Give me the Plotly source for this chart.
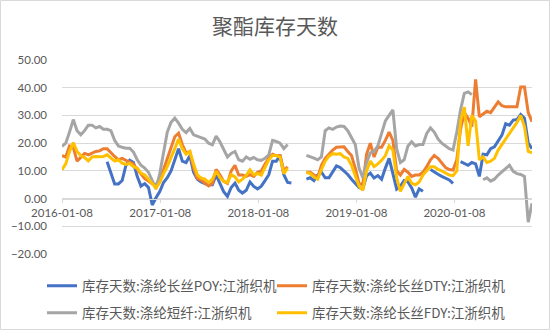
import plotly.graph_objects as go
import pandas as pd

title = "聚酯库存天数"
# weekly-ish sampling (every 14 days) of the reference series
dates = pd.date_range("2016-01-08", periods=126, freq="14D")
tick_dates = ["2016-01-08", "2017-01-08", "2018-01-08", "2019-01-08", "2020-01-08"]
names = ["库存天数:涤纶长丝POY:江浙织机", "库存天数:涤纶长丝DTY:江浙织机",
         "库存天数:涤纶短纤:江浙织机", "库存天数:涤纶长丝FDY:江浙织机"]
colors = ["#4472C4", "#ED7D31", "#A5A5A5", "#FFC000"]
N = None

poy = [N, N, N, N, N, N, N, N, N, N,
       N, N, 13.3, 9, 5.3, 5.3, 6.5, 12, 13.8, 13,
       8, 4.5, 5.4, 4, -2.3, 0.3, 2.5, 5.8, 7.5, 10,
       14, 18, 13.5, 13, 15.5, 9.5, 7, 6, 5.4, 5,
       5, 8.5, 5.5, 2.5, 0.8, 4, 5.6, 3, 2, 3,
       6, 4.4, 3.5, 4.5, 6.5, 8.6, 13.5, 13.5, 15.5, 8.6,
       5.8, 5.6, N, N, N, 7, 7.5, 6.5, 8.5, 9.5,
       7.5, 7.5, 9.5, 11.8, 11.2, 10, 8.7, 7, 5.5, 4,
       3.5, 8.2, 9.2, 7.4, 8.3, 7, 11, 14.5, 9, 3.4,
       4.5, 6.5, 6, 3.8, 0.5, 3.5, 2.6, N, 10.5, 9.5,
       8.8, 8, 7.3, 6.7, 5.5, N, 13.3, 12.5, 12, 13,
       12.5, 8, 16, 15.8, 18, 18.7, 21, 22.9, 27, 26.5,
       28.3, 28.5, 30.3, 29, 20, 18]

dty = [15.5, 15, 19, 18.5, 13.5, 15, 16.3, 15.8, 16.5, 17,
       17.2, 18, 18, 16.5, 15.2, 14, 14.5, 13.8, 13, 12.5,
       10.5, 9, 7.2, 6.3, 5.3, 5, 7, 10.5, 14.5, 19,
       22.3, 23.6, 19.5, 16.5, 17, 11, 7.3, 6.6, 5.6, 4.6,
       5.5, 10.5, 8.6, 6.2, 5.5, 10, 12, 8.5, 8.5, 8,
       8.6, 8, 9.5, 10, 12.5, 14.5, 16, 15.5, 15.5, 10,
       11.5, N, N, N, N, 9.5, 9.5, 8.5, 7.5, 12,
       14.5, 16, 17.5, 18.5, 18.5, 18.7, 17, 15.5, 11, 5.5,
       5, 16, 20, 15, 18.5, 18.5, 21, 24, 21, 10,
       8.5, 10.5, 9.5, 8, 8.5, 8.5, 9.5, 11.5, 14, 15.5,
       14.5, 12.8, 11.2, 10.5, 10.3, 14, 25, 31, 29, 26,
       43, 29.5, 30.5, 31.5, 31, 33, 34.9, 33.5, 33.1, 33.1,
       33.1, 33.1, 40.3, 40.3, 31, 27.7]

psf = [18.8, 20, 24, 28.5, 24.5, 23, 24.5, 26.5, 26.5, 25.5,
       26, 25, 25, 24.5, 21, 19, 18.5, 18.2, 18.2, 16.8,
       14, 12, 11, 9.5, 6.5, 3.5, 9, 17, 24, 27.5,
       29, 27.2, 25, 23.8, 25.3, 23, 22.4, 22, 21.5, 20,
       19.4, 22.5, 20.5, 18, 15, 16.3, 17, 14, 13.5, 15,
       14.2, 14.8, 14, 13.8, 14.5, 15.8, 21, 20.6, 20, 18,
       19.5, N, N, N, N, 15.6, 15.2, 14.6, 14, 15,
       24.5, 25.5, 25, 25.8, 26.2, 26, 24.5, 22, 19.5, 11,
       7.5, 13, 16.5, 17, 19, 23.5, 28, 30, 32, 18,
       13, 14, 19, 20.5, 19, 19.5, 19.5, 23.5, 25.5, 24,
       21.5, 20, 19, 18, 17.5, 24, 32, 38, 38.5, 37.5,
       N, N, 6.8, 7.5, 6.3, 7, 8.5, 9.7, 11, 12,
       9.8, 9, 8.7, 8, -8.5, -1.7]

fdy = [10.4, 12.5, 17, 20.2, 17, 15.5, 14.8, 13.6, 15, 15.2,
       15.1, 15.2, 15.8, 14.8, 13.5, 14, 12.8, 12.3, 12.7, 11.5,
       11, 9.2, 8.5, 7, 5.5, 3.8, 5.8, 9, 11.5, 14.5,
       18, 21.5, 18, 16, 17, 12.5, 8.5, 7.4, 7, 5.8,
       7, 9.8, 7.6, 6.2, 5.8, 8.6, 7.8, 6, 7, 8.4,
       10.4, 8.6, 9, 8.5, 11, 14, 15.5, 15.5, 15, 9,
       11, N, N, N, N, 9.5, 9, 7.8, 7, 10.5,
       13.5, 15.3, 16.2, 16, 16.2, 15, 14.5, 12, 8, 4.5,
       3, 10, 13.5, 11.5, 12.5, 13.8, 15.5, 19, 17.5, 7.5,
       2.6, 5.5, 8, 5.5, 5, 6, 8.5, 10, 11.5, 11.5,
       10.5, 10, 9.2, 8.5, 8.3, 10, 28, 33, 19, 30,
       28, 14, 15, 13, 13.5, 14.5, 17.5, 19.5, 21.5, 23.5,
       25.5, 27.5, 30, 26, 17, 16.5]

series = [poy, dty, psf, fdy]
legend_ids = ["legend", "legend2", "legend3", "legend4"]

FONT = "Noto Sans CJK SC, Noto Sans, sans-serif"
NUMFONT = "Lato, Noto Sans, sans-serif"
TXT = "#595959"
GRID = "#D9D9D9"

fig = go.Figure()
for name, vals, col, lg in zip(names, series, colors, legend_ids):
    fig.add_trace(go.Scatter(x=dates, y=vals, name=name, mode="lines",
                             line=dict(color=col, width=3), connectgaps=False,
                             legend=lg))

W, H = 550, 330
ML, MR, MT, MB = 62, 18, 60, 76
pw, ph = W - ML - MR, H - MT - MB

def leg(xpx, ypx):
    return dict(orientation="h", x=(xpx - ML) / pw, y=(H - MB - ypx) / ph,
                xref="paper", yref="paper", xanchor="left", yanchor="middle",
                font=dict(family=FONT, size=13.5, color=TXT),
                bgcolor="rgba(0,0,0,0)", borderwidth=0, itemwidth=30)

fig.update_layout(
    template="none",
    width=W, height=H,
    margin=dict(l=ML, r=MR, t=MT, b=MB, autoexpand=False),
    paper_bgcolor="white", plot_bgcolor="white",
    font=dict(family=FONT, color=TXT),
    title=dict(text=title, x=0.5, xref="container", xanchor="center",
               y=1 - 27 / H, yref="container", yanchor="middle",
               font=dict(family=FONT, size=21, color=TXT)),
    xaxis=dict(type="date", range=[dates[0], dates[-1]],
               tickvals=tick_dates, ticktext=tick_dates,
               anchor="free", position=20 / 70, automargin=False,
               showgrid=False, zeroline=False,
               showline=True, linecolor=GRID, linewidth=1,
               ticks="outside", ticklen=3, tickcolor=GRID,
               ticklabelstandoff=1,
               tickfont=dict(family=NUMFONT, size=11.5, color=TXT)),
    yaxis=dict(range=[-20, 50], dtick=10, tick0=0, tickformat=".2f",
               automargin=False,
               showgrid=True, gridcolor=GRID, gridwidth=1,
               zeroline=False, showline=False, ticks="",
               ticklabelstandoff=14,
               tickfont=dict(family=NUMFONT, size=11.5, color=TXT)),
    legend=leg(42, 286),
    legend2=leg(272, 286),
    legend3=leg(42, 313),
    legend4=leg(272, 313),
    showlegend=True,
    shapes=[dict(type="rect", xref="paper", yref="paper",
                 x0=(0.5 - ML) / pw, x1=(W - 0.5 - ML) / pw,
                 y0=-(MB - 0.5) / ph, y1=1 + (MT - 0.5) / ph,
                 line=dict(color=GRID, width=1), fillcolor="rgba(0,0,0,0)",
                 layer="below")],
)

fig.write_html("out.html")
